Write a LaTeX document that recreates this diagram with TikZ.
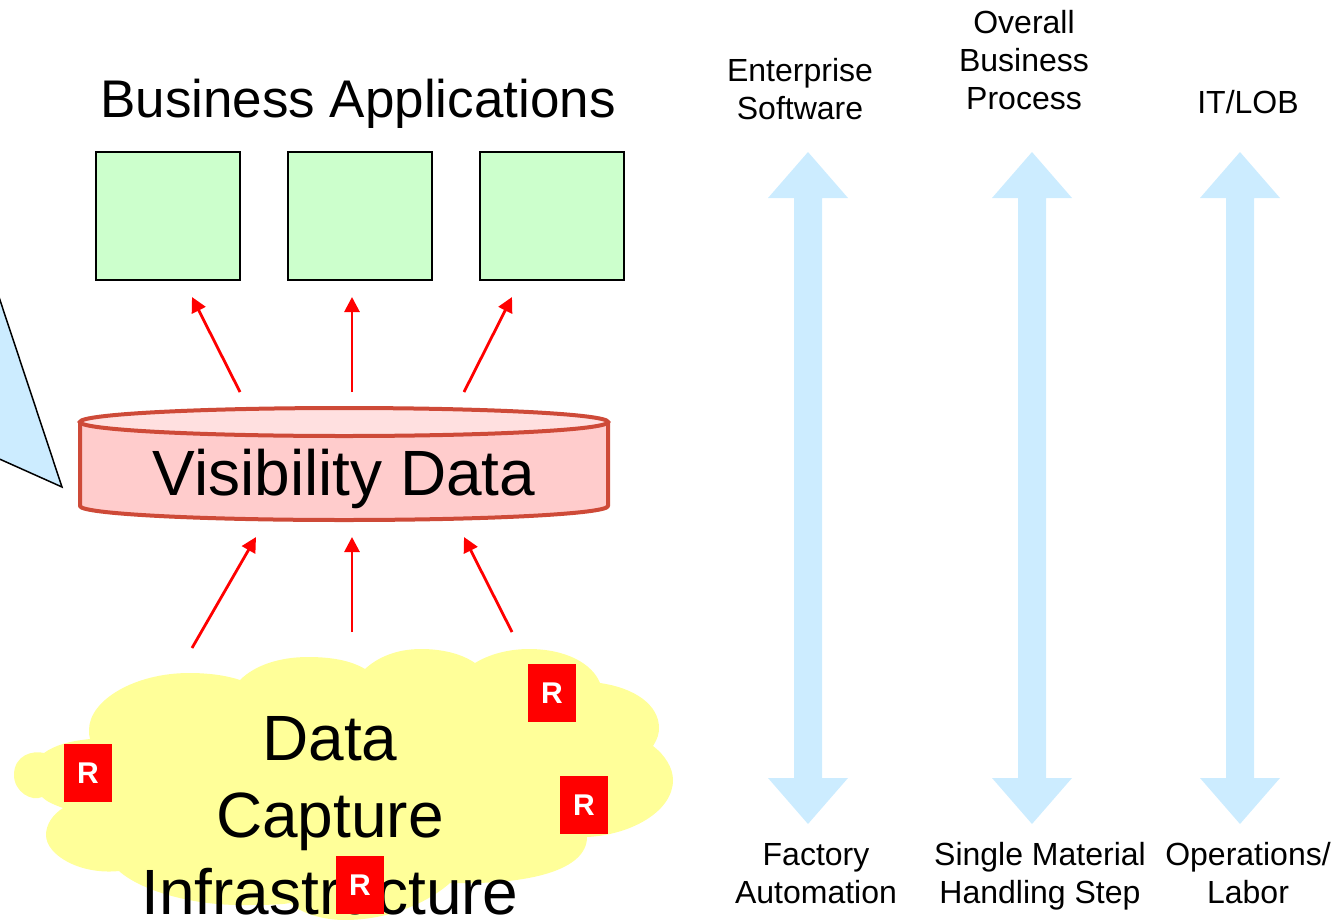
\documentclass[tikz,border=0pt]{standalone}
\usepackage{fontspec}
\setmainfont{Liberation Sans}
\usetikzlibrary{arrows.meta}
\definecolor{lblue}{HTML}{CCECFF}
\definecolor{lgreen}{HTML}{CCFFCC}
\definecolor{cylline}{HTML}{CE4A38}
\definecolor{cylbody}{HTML}{FFCCCC}
\definecolor{cyltop}{HTML}{FFE0E0}
\definecolor{cloudy}{HTML}{FFFF99}
\tikzset{
  x=1pt,y=-1pt,
  appbox/.style={draw=black,line width=1.5pt,fill=lgreen,minimum width=144pt,minimum height=128pt,inner sep=0pt},
  rbox/.style={fill=red,text=white,font=\bfseries\fontsize{30}{34}\selectfont,minimum width=48pt,minimum height=58pt,inner sep=0pt},
  redarrow/.style={draw=red,line width=2.8pt,-{Triangle[length=15pt,width=15pt]}},
  sidelabel/.style={font=\fontsize{32}{38}\selectfont,align=center,inner sep=0pt},
}
\begin{document}
\begin{tikzpicture}
\useasboundingbox (0,0) rectangle (1344,919);
% callout
\draw[fill=lblue,draw=black,line width=1.5pt] (-5,285) -- (62,487) -- (-5,457);
% cloud
\fill[cloudy] (44,753)
  .. controls (33,750) and (14,755) .. (14,775)
  .. controls (14,792) and (32,802) .. (42,797)
  .. controls (47,802) and (55,805) .. (63,808)
  .. controls (52,815) and (46,825) .. (46,835)
  .. controls (46,855) and (80,875) .. (119,871)
  .. controls (140,890) and (190,905) .. (240,905)
  .. controls (260,905) and (280,905) .. (290,903)
  .. controls (300,912) and (320,920) .. (345,920)
  .. controls (385,920) and (425,905) .. (450,883)
  .. controls (530,885) and (587,870) .. (587,837)
  .. controls (630,835) and (673,812) .. (673,780)
  .. controls (673,768) and (665,755) .. (653,746)
  .. controls (658,738) and (659,733) .. (659,728)
  .. controls (659,705) and (635,688) .. (600,683)
  .. controls (592,663) and (565,649) .. (529,649)
  .. controls (507,649) and (488,655) .. (475,663)
  .. controls (462,654) and (443,649) .. (421,649)
  .. controls (397,649) and (378,657) .. (365,669)
  .. controls (350,660) and (330,657) .. (308,657)
  .. controls (280,657) and (255,665) .. (240,680)
  .. controls (225,675) and (207,673) .. (189,673)
  .. controls (135,673) and (89,700) .. (89,730)
  .. controls (89,733) and (89,736) .. (90,739)
  .. controls (70,741) and (55,745) .. (44,753) -- cycle;
\node[inner sep=0pt,font=\fontsize{64}{77}\selectfont,align=center] (dci) at (330,816) {Data\\Capture\\Infrastructure};
% R boxes
\node[rbox] (r1) at (552,693) {\raisebox{-3.5pt}{R}};
\node[rbox] (r2) at (88,773) {\raisebox{-3.5pt}{R}};
\node[rbox] (r3) at (584,805) {\raisebox{-3.5pt}{R}};
\node[rbox] (r4) at (360,885) {\raisebox{-3.5pt}{R}};
% business applications
\node[inner sep=0pt,font=\fontsize{53}{60}\selectfont] (ba) at (358,104) {Business Applications};
\node[appbox] (a1) at (168,216) {};
\node[appbox] (a2) at (360,216) {};
\node[appbox] (a3) at (552,216) {};
% cylinder
\draw[draw=cylline,fill=cylbody,line width=4pt,line join=round]
  (80,422) -- (80,506) arc[start angle=180,end angle=360,x radius=264,y radius=-14] -- (608,422) -- cycle;
\draw[draw=cylline,fill=cyltop,line width=4pt] (344,422) ellipse[x radius=264,y radius=14];
\node[inner sep=0pt,font=\fontsize{64}{77}\selectfont] (vd) at (344,479) {Visibility Data};
% red arrows
\coordinate (u1) at (240,392); \coordinate (u1e) at (192,297);
\coordinate (u2) at (352,392); \coordinate (u2e) at (352,297);
\coordinate (u3) at (464,392); \coordinate (u3e) at (512,297);
\coordinate (d1) at (192,648); \coordinate (d1e) at (256,537);
\coordinate (d2) at (352,632); \coordinate (d2e) at (352,537);
\coordinate (d3) at (512,632); \coordinate (d3e) at (464,537);
\foreach \a/\b in {u1/u1e,u2/u2e,u3/u3e,d1/d1e,d2/d2e,d3/d3e}
  \draw[redarrow] (\a) -- (\b);
% blue double arrows
\foreach \c in {808,1032,1240}
  \fill[lblue] (\c,152) -- (\c+40,198) -- (\c+14,198) -- (\c+14,778) -- (\c+40,778) -- (\c,824)
    -- (\c-40,778) -- (\c-14,778) -- (\c-14,198) -- (\c-40,198) -- cycle;
% side labels
\node[sidelabel] (l1) at (800,89) {Enterprise\\Software};
\node[sidelabel] (l2) at (1024,60) {Overall\\Business\\Process};
\node[sidelabel] (l3) at (1248,102) {IT/LOB};
\node[sidelabel] (l4) at (816,874) {Factory\\Automation};
\node[sidelabel] (l5) at (1040,876) {Single Material\\Handling Step};
\node[sidelabel] (l6) at (1248,873) {Operations/\\Labor};
\end{tikzpicture}
\end{document}
